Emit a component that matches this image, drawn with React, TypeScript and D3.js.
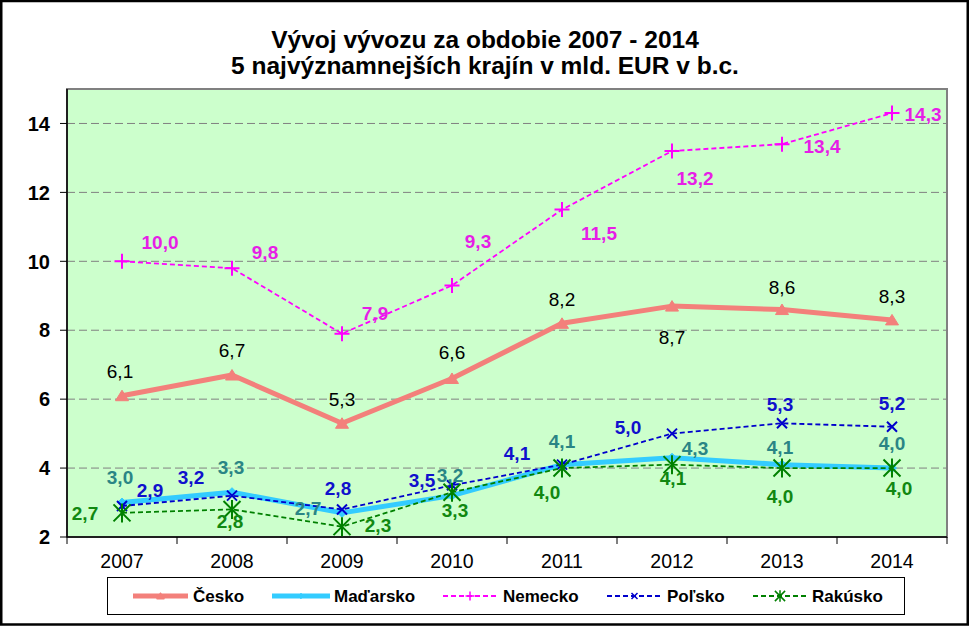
import React from "react";
import * as d3 from "d3";

// ---------- data ----------
const years = ["2007", "2008", "2009", "2010", "2011", "2012", "2013", "2014"];
const cesko = [6.1, 6.7, 5.3, 6.6, 8.2, 8.7, 8.6, 8.3];
const madarsko = [3.0, 3.3, 2.7, 3.2, 4.1, 4.3, 4.1, 4.0];
const nemecko = [10.0, 9.8, 7.9, 9.3, 11.5, 13.2, 13.4, 14.3];
const polsko = [2.9, 3.2, 2.8, 3.5, 4.1, 5.0, 5.3, 5.2];
const rakusko = [2.7, 2.8, 2.3, 3.3, 4.0, 4.1, 4.0, 4.0];
const yTicks = [2, 4, 6, 8, 10, 12, 14];
const seriesNames = ["Česko", "Maďarsko", "Nemecko", "Poľsko", "Rakúsko"];
const titleLines = ["Vývoj vývozu za obdobie 2007 - 2014", "5 najvýznamnejších krajín v mld. EUR v b.c."];

// ---------- label placement (offsets from point) ----------
const ceskoLabelOff = [[-2, -25], [0, -25], [0, -24], [0, -26], [0, -24], [0, 31], [0, -22], [0, -24]];
const madarskoLabelOff = [[-2, -25], [-1, -25], [-34, -5], [-2, -20], [0, -23], [23, -10], [-2, -17], [0, -25]];
const nemeckoLabelOff = [[38, -19], [33, -16], [33, -21], [26, -44], [37, 24], [23, 27], [40, 2], [31, 1]];
const polskoLabelOff = [[28, -16], [-41, -18], [-4, -21], [-30, -5], [-45, -11], [-44, -6], [-2, -19], [0, -24]];
const rakuskoLabelOff = [[-37, 0], [-2, 12], [36, -2], [3, 18], [-15, 24], [1, 14], [-2, 28], [7, 20]];

const W = 969;
const H = 626;
const FONT = "Arial, 'Liberation Sans', sans-serif";

type MarkerKind = "triangle" | "diamond" | "plus" | "x" | "asterisk";

function markerPath(kind: MarkerKind, s: number): string {
  switch (kind) {
    case "triangle":
      return `M0,${-5.5 * s}L${6.5 * s},${5 * s}L${-6.5 * s},${5 * s}Z`;
    case "diamond":
      return `M0,${-4.5 * s}L${4.5 * s},0L0,${4.5 * s}L${-4.5 * s},0Z`;
    case "plus":
      return `M${-7.5 * s},0L${7.5 * s},0M0,${-7.5 * s}L0,${7.5 * s}`;
    case "x":
      return `M${-5 * s},${-5 * s}L${5 * s},${5 * s}M${5 * s},${-5 * s}L${-5 * s},${5 * s}`;
    case "asterisk":
      return `M${-8.5 * s},${-8.5 * s}L${8.5 * s},${8.5 * s}M${8.5 * s},${-8.5 * s}L${-8.5 * s},${8.5 * s}M0,${-9.5 * s}L0,${9.5 * s}`;
  }
}

interface Series {
  name: string;
  values: number[];
  color: string;
  labelColor: string;
  width: number;
  dash?: string;
  marker: MarkerKind;
  markerFilled: boolean;
  bold: boolean;
  offsets: number[][];
}

const series: Series[] = [
  { name: seriesNames[0], values: cesko, color: "#F3807B", labelColor: "#000000", width: 5, marker: "triangle", markerFilled: true, bold: false, offsets: ceskoLabelOff },
  { name: seriesNames[1], values: madarsko, color: "#33CCFF", labelColor: "#2A8585", width: 5, marker: "diamond", markerFilled: true, bold: true, offsets: madarskoLabelOff },
  { name: seriesNames[2], values: nemecko, color: "#FF00FF", labelColor: "#E61EE6", width: 1.8, dash: "5,3", marker: "plus", markerFilled: false, bold: true, offsets: nemeckoLabelOff },
  { name: seriesNames[3], values: polsko, color: "#0000CC", labelColor: "#1010CC", width: 1.8, dash: "5,3", marker: "x", markerFilled: false, bold: true, offsets: polskoLabelOff },
  { name: seriesNames[4], values: rakusko, color: "#008000", labelColor: "#118811", width: 1.8, dash: "5,3", marker: "asterisk", markerFilled: false, bold: true, offsets: rakuskoLabelOff },
];

const legendPos = [
  { x1: 133, x2: 188, tx: 193 },
  { x1: 272, x2: 330, tx: 334 },
  { x1: 443, x2: 497, tx: 503 },
  { x1: 607, x2: 662, tx: 667 },
  { x1: 753, x2: 807, tx: 812 },
];

export default function App() {
  const plot = { left: 67, right: 947, top: 89, bottom: 537 };
  const x = d3.scaleBand<string>().domain(years).range([plot.left, plot.right]).padding(0);
  const y = d3.scaleLinear().domain([2, 15]).range([plot.bottom, plot.top]);
  const cx = (yr: string) => (x(yr) as number) + x.bandwidth() / 2;
  const line = d3
    .line<number>()
    .x((_, i) => cx(years[i]))
    .y((d) => y(d));

  const boundaries = years.map((yr) => x(yr) as number).concat([plot.right]);

  return (
    <svg
      width={W}
      height={H}
      style={{ position: "absolute", left: 0, top: 0, background: "#fff" }}
      fontFamily={FONT}
    >
      <rect x={0} y={0} width={W} height={H} fill="#fff" />
      {/* outer border */}
      <rect x={1.25} y={1} width={W - 2.5} height={H - 2.5} fill="none" stroke="#000" strokeWidth={2.5} />

      {/* title */}
      {titleLines.map((t, i) => (
        <text key={i} x={485} y={48 + i * 25.5} textAnchor="middle" fontSize={24.5} fontWeight="bold" fill="#000">
          {t}
        </text>
      ))}

      {/* plot area */}
      <rect
        x={plot.left}
        y={plot.top}
        width={plot.right - plot.left}
        height={plot.bottom - plot.top}
        fill="#CCFFCC"
        stroke="#808080"
        strokeWidth={2}
      />

      {/* gridlines */}
      {yTicks
        .filter((t) => t > 2)
        .map((t) => (
          <line
            key={t}
            x1={plot.left}
            x2={plot.right}
            y1={y(t)}
            y2={y(t)}
            stroke="#808080"
            strokeWidth={1}
            strokeDasharray="8,4"
          />
        ))}

      {/* axes */}
      <line x1={plot.left} x2={plot.left} y1={plot.top} y2={plot.bottom} stroke="#000" strokeWidth={1.5} />
      <line x1={plot.left} x2={plot.right} y1={plot.bottom} y2={plot.bottom} stroke="#000" strokeWidth={1.5} />
      {yTicks.map((t) => (
        <g key={t}>
          <line x1={plot.left - 7} x2={plot.left} y1={y(t)} y2={y(t)} stroke="#000" strokeWidth={1} />
          <text x={50} y={y(t)} dy="0.36em" textAnchor="end" fontSize={20} fontWeight="bold" fill="#000">
            {t}
          </text>
        </g>
      ))}
      {boundaries.map((bx, i) => (
        <line key={i} x1={bx} x2={bx} y1={plot.bottom} y2={plot.bottom + 7} stroke="#000" strokeWidth={1} />
      ))}
      {years.map((yr) => (
        <text key={yr} x={cx(yr)} y={568} textAnchor="middle" fontSize={19.5} fill="#000">
          {yr}
        </text>
      ))}

      {/* series lines + markers */}
      {series.map((s) => (
        <g key={s.name}>
          <path
            d={line(s.values) as string}
            fill="none"
            stroke={s.color}
            strokeWidth={s.width}
            strokeDasharray={s.dash}
            strokeLinejoin="round"
          />
          {s.values.map((v, i) => (
            <path
              key={i}
              transform={`translate(${cx(years[i])},${y(v)})`}
              d={markerPath(s.marker, 1)}
              fill={s.markerFilled ? s.color : "none"}
              stroke={s.color}
              strokeWidth={s.markerFilled ? 1 : 2}
            />
          ))}
        </g>
      ))}

      {/* data labels */}
      {series.map((s) => (
        <g key={s.name + "-lab"}>
          {s.values.map((v, i) => (
            <text
              key={i}
              x={cx(years[i]) + s.offsets[i][0]}
              y={y(v) + s.offsets[i][1]}
              dy="0.36em"
              textAnchor="middle"
              fontSize={19}
              fontWeight={s.bold ? "bold" : "normal"}
              fill={s.labelColor}
            >
              {d3.format(".1f")(v).replace(".", ",")}
            </text>
          ))}
        </g>
      ))}

      {/* legend */}
      <rect x={107.5} y={577.5} width={797} height={37} fill="#fff" stroke="#000" strokeWidth={1} />
      {series.map((s, i) => {
        const p = legendPos[i];
        const ly = 596;
        return (
          <g key={s.name + "-leg"}>
            <line
              x1={p.x1}
              x2={p.x2}
              y1={ly}
              y2={ly}
              stroke={s.color}
              strokeWidth={s.width}
              strokeDasharray={s.dash}
            />
            <path
              transform={`translate(${(p.x1 + p.x2) / 2},${ly})`}
              d={markerPath(s.marker, 0.6)}
              fill={s.markerFilled ? s.color : "none"}
              stroke={s.color}
              strokeWidth={s.markerFilled ? 1 : 1.5}
            />
            <text x={p.tx} y={ly} dy="0.36em" fontSize={17} fontWeight="bold" fill="#000">
              {s.name}
            </text>
          </g>
        );
      })}
    </svg>
  );
}
